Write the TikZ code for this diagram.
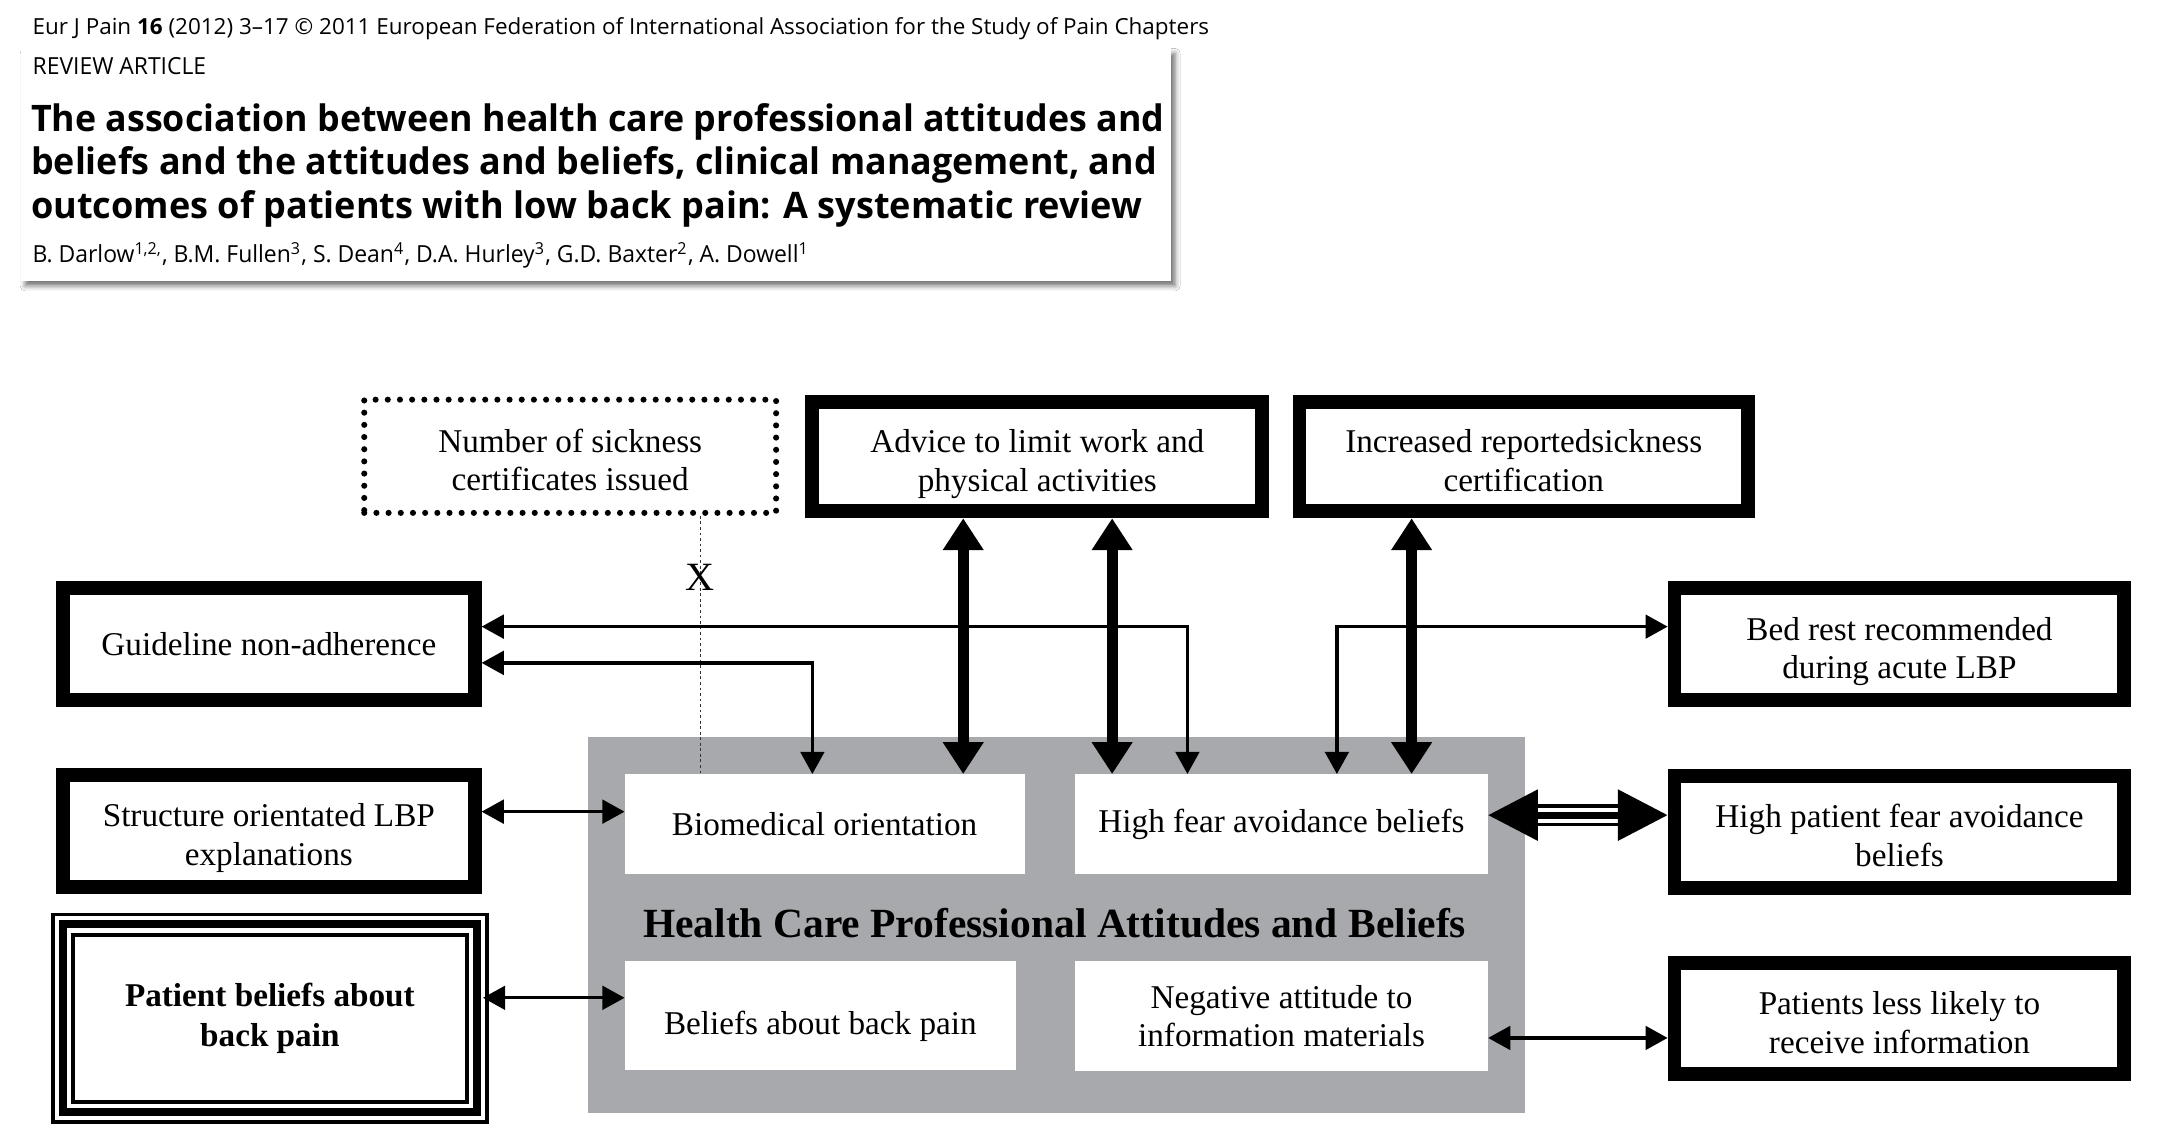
\documentclass[tikz,border=0pt]{standalone}
\usepackage{graphicx}
\usepackage{fontspec}
\setmainfont{Liberation Serif}
\newfontfamily\hdr{Open Sans}
\usetikzlibrary{arrows.meta,calc,shadows.blur}
\definecolor{hcgray}{HTML}{A7A9AC}
\begin{document}
\begin{tikzpicture}[x=0.5pt,y=-0.5pt,
  thickbox/.style={draw=black,line width=5pt,fill=white,inner sep=0pt,align=center,
    font=\fontsize{12}{14}\selectfont},
  dotbox/.style={draw=black,line width=2.2pt,dash pattern=on 0pt off 4.4pt,line cap=round,
    fill=white,inner sep=0pt,align=center,font=\fontsize{12}{14}\selectfont},
  inbox/.style={fill=white,inner sep=0pt,outer sep=0pt,align=center,font=\fontsize{12}{14}\selectfont},
  twol/.style={text height=25pt,text depth=0pt},
  thinarr/.style={line width=1.2pt,arrows={Triangle[length=8pt,width=8.5pt]-Triangle[length=8pt,width=8.5pt]}},
  thickarr/.style={line width=4pt,arrows={Triangle[length=11.5pt,width=14pt]-Triangle[length=11.5pt,width=14pt]}},
  bigarr/.style={line width=2.5pt,arrows={Triangle[length=18pt,width=18pt]-Triangle[length=18pt,width=18pt]}},
  vdots/.style={line width=0.5pt,dash pattern=on 1pt off 1pt,black!80},
  hdrtext/.style={anchor=base west,inner sep=0pt,outer sep=0pt}
]
\useasboundingbox[fill=white] (0,0) rectangle (1568,822);

% ---------- header ----------
\node[hdrtext] (jref) at (23.6,24.6) {\resizebox{425pt}{\height}{\hdr\fontsize{8}{9}\selectfont Eur J Pain \textbf{16} (2012) 3–17 © 2011 European Federation of International Association for the Study of Pain Chapters}};
\node[fill=white,inner sep=0pt,outer sep=0pt,minimum width=415.5pt,minimum height=84pt,
  blur shadow={shadow xshift=1.6pt,shadow yshift=-1.8pt,shadow blur radius=1.8pt,shadow opacity=55}] (card) at (430.5,119) {};
\node[hdrtext] (rev) at (23.6,53.5) {\resizebox{62.7pt}{\height}{\hdr\fontsize{8.5}{10}\selectfont REVIEW ARTICLE}};
\node[hdrtext] (t1) at (22.5,95.1) {\resizebox{409.5pt}{\height}{\hdr\bfseries\fontsize{13.2}{15}\selectfont The association between health care professional attitudes and}};
\node[hdrtext] (t2) at (22.5,126.4) {\resizebox{406.7pt}{\height}{\hdr\bfseries\fontsize{13.2}{15}\selectfont beliefs and the attitudes and beliefs, clinical management, and}};
\node[hdrtext] (t3) at (22.5,157.7) {\resizebox{401.5pt}{\height}{\hdr\bfseries\fontsize{13.2}{15}\selectfont outcomes of patients with low back pain: A systematic review}};
\node[hdrtext] (auth) at (23.6,189.8) {\resizebox{280.5pt}{\height}{\hdr\fontsize{8.5}{10}\selectfont B. Darlow\textsuperscript{1,2,}, B.M. Fullen\textsuperscript{3}, S. Dean\textsuperscript{4}, D.A. Hurley\textsuperscript{3}, G.D. Baxter\textsuperscript{2}, A. Dowell\textsuperscript{1}}};

% ---------- central grey block ----------
\node[fill=hcgray,inner sep=0pt,outer sep=0pt,minimum width=338.7pt,minimum height=135.7pt] (hcp) at (763.3,668.3) {};
\node[inbox,minimum width=144.5pt,minimum height=36.1pt] (bio) at (595.8,595.4) {Biomedical orientation};
\node[inbox,minimum width=149.3pt,minimum height=36.1pt] (hf) at (926,595.4) {High fear avoidance beliefs};
\node[inbox,minimum width=141.5pt,minimum height=39.35pt,text height=13.8pt,text depth=0pt] (bbp) at (592.8,733.75) {Beliefs about back pain};
\node[inbox,minimum width=149.3pt,minimum height=39.8pt] (neg) at (926,734.2) {Negative attitude to\\information materials};
\node[inner sep=0pt,font=\fontsize{15}{18}\selectfont\bfseries] (hct) at (762,666.7) {Health Care Professional Attitudes and Beliefs};

% ---------- outer boxes ----------
\node[dotbox,twol,minimum width=148.8pt,minimum height=40.9pt] (nsc) at (412,329.7) {Number of sickness\\certificates issued};
\node[thickbox,twol,minimum width=162.5pt,minimum height=39.5pt] (adv) at (749.5,330) {Advice to limit work and\\physical activities};
\node[thickbox,twol,minimum width=162pt,minimum height=39.5pt] (irc) at (1101,330) {Increased reportedsickness\\certification};
\node[thickbox,minimum width=148.75pt,minimum height=40.3pt] (gna) at (194.25,465.3) {Guideline non-adherence};
\node[thickbox,twol,minimum width=148.75pt,minimum height=40.5pt] (sol) at (194.25,600.5) {Structure orientated LBP\\explanations};
\node[thickbox,twol,minimum width=162.5pt,minimum height=40.5pt] (brl) at (1372.5,465.5) {Bed rest recommended\\during acute LBP};
\node[thickbox,twol,minimum width=162.5pt,minimum height=40.5pt] (hpf) at (1372.5,601) {High patient fear avoidance\\beliefs};
\node[thickbox,twol,minimum width=162.5pt,minimum height=40pt] (pll) at (1372.5,736) {Patients less likely to\\receive information};

% patient beliefs: triple border
\node[fill=white,inner sep=0pt,outer sep=0pt,minimum width=158pt,minimum height=76.25pt,align=center,
  font=\fontsize{12}{14.5}\selectfont\bfseries] (pb) at (195,735.75) {Patient beliefs about\\back pain};
\draw[line width=1.2pt] ([shift={(1.2,1.2)}]pb.north west) rectangle ([shift={(-1.2,-1.2)}]pb.south east);
\draw[line width=3pt] ([shift={(8.3,8.3)}]pb.north west) rectangle ([shift={(-8.3,-8.3)}]pb.south east);
\draw[line width=1.45pt] ([shift={(15.85,15.85)}]pb.north west) rectangle ([shift={(-15.85,-15.85)}]pb.south east);

% ---------- connectors ----------
\draw[vdots] (506,0 |- nsc.south) -- (506,0 |- bio.north);
\node[inner sep=0pt,font=\fontsize{14.5}{16}\selectfont] (xl) at (506,417) {X};

\draw[thickarr] (696,0 |- adv.south) -- (696,0 |- bio.north);
\draw[thickarr] (803.6,0 |- adv.south) -- (803.6,0 |- hf.north);
\draw[thickarr] (1020,0 |- irc.south) -- (1020,0 |- hf.north);

\draw[thinarr] (gna.east |- 0,452.8) -| (858,0 |- hf.north);
\draw[thinarr] (gna.east |- 0,479) -| (587,0 |- bio.north);
\draw[thinarr] (966,0 |- hf.north) |- (brl.west |- 0,452.8);

\draw[thinarr] (sol.east |- 0,586.5) -- (bio.west |- 0,586.5);
\draw[thinarr] ([xshift=-2pt]pb.east |- 0,721) -- (bbp.west |- 0,721);
\draw[thinarr] (neg.east |- 0,750) -- (pll.west |- 0,750);

% triple-line double arrow
\draw[line width=8pt,shorten <=17pt,shorten >=17pt] (hf.east |- 0,589) -- (hpf.west |- 0,589);
\draw[line width=5.5pt,white,shorten <=17pt,shorten >=17pt] (hf.east |- 0,589) -- (hpf.west |- 0,589);
\draw[bigarr] (hf.east |- 0,589) -- (hpf.west |- 0,589);
\end{tikzpicture}
\end{document}
